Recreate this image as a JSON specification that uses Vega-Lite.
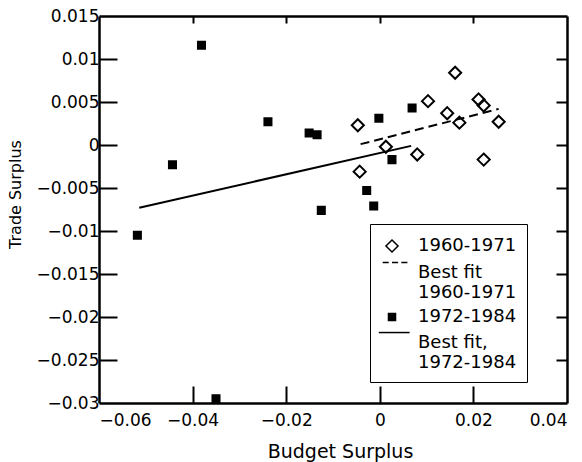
{
  "$schema": "https://vega.github.io/schema/vega-lite/v6.json",
  "width": 468,
  "height": 387,
  "padding": {"left": 7, "top": 7, "right": 10, "bottom": 5},
  "background": "white",
  "config": {
    "view": {"stroke": null},
    "font": "DejaVu Sans",
    "axis": {
      "grid": false,
      "domainColor": "black",
      "domainWidth": 2.5,
      "tickColor": "black",
      "tickWidth": 2,
      "labelFont": "DejaVu Sans",
      "labelFontSize": 17,
      "labelColor": "black",
      "titleFont": "DejaVu Sans",
      "titleFontSize": 16,
      "titleFontWeight": "normal",
      "titleColor": "black"
    },
    "legend": {
      "labelFont": "DejaVu Sans",
      "labelFontSize": 18,
      "labelColor": "black"
    }
  },
  "datasets": {
    "points": [
      {"series": "1972-1984", "budget": -0.0381, "trade": 0.0116},
      {"series": "1972-1984", "budget": -0.0443, "trade": -0.0023},
      {"series": "1972-1984", "budget": -0.0239, "trade": 0.0027},
      {"series": "1972-1984", "budget": -0.0518, "trade": -0.0105},
      {"series": "1972-1984", "budget": -0.0350, "trade": -0.0295},
      {"series": "1972-1984", "budget": -0.0151, "trade": 0.0014},
      {"series": "1972-1984", "budget": -0.0134, "trade": 0.0012},
      {"series": "1972-1984", "budget": -0.0002, "trade": 0.0031},
      {"series": "1972-1984", "budget": 0.0069, "trade": 0.0043},
      {"series": "1972-1984", "budget": 0.0026, "trade": -0.0017},
      {"series": "1972-1984", "budget": -0.0028, "trade": -0.0053},
      {"series": "1972-1984", "budget": -0.0013, "trade": -0.0071},
      {"series": "1972-1984", "budget": -0.0125, "trade": -0.0076},
      {"series": "1960-1971", "budget": -0.0047, "trade": 0.0023},
      {"series": "1960-1971", "budget": 0.0013, "trade": -0.0002},
      {"series": "1960-1971", "budget": -0.0043, "trade": -0.0031},
      {"series": "1960-1971", "budget": 0.0080, "trade": -0.0011},
      {"series": "1960-1971", "budget": 0.0103, "trade": 0.0051},
      {"series": "1960-1971", "budget": 0.0144, "trade": 0.0037},
      {"series": "1960-1971", "budget": 0.0161, "trade": 0.0084},
      {"series": "1960-1971", "budget": 0.0170, "trade": 0.0026},
      {"series": "1960-1971", "budget": 0.0211, "trade": 0.0053},
      {"series": "1960-1971", "budget": 0.0222, "trade": 0.0046},
      {"series": "1960-1971", "budget": 0.0254, "trade": 0.0027},
      {"series": "1960-1971", "budget": 0.0222, "trade": -0.0017}
    ],
    "fit7284": [
      {"budget": -0.0514, "trade": -0.0073},
      {"budget": 0.0067, "trade": -0.0001}
    ],
    "fit6071": [
      {"budget": -0.0041, "trade": 0.0001},
      {"budget": 0.0254, "trade": 0.0042}
    ]
  },
  "layer": [
    {
      "data": {"name": "fit7284"},
      "mark": {"type": "line", "color": "black", "strokeWidth": 2},
      "encoding": {
        "x": {
          "field": "budget", "type": "quantitative",
          "scale": {"domain": [-0.06, 0.04], "nice": false, "zero": false},
          "axis": {"orient": "bottom", "title": "Budget Surplus", "titleFontSize": 19, "titleX": 241, "values": [-0.06, -0.04, -0.02, 0, 0.02, 0.04], "format": "~g", "ticks": false, "labelPadding": 9, "titlePadding": 14}
        },
        "y": {
          "field": "trade", "type": "quantitative",
          "scale": {"domain": [-0.03, 0.015], "nice": false, "zero": false},
          "axis": {"orient": "left", "title": "Trade Surplus", "values": [-0.03, -0.025, -0.02, -0.015, -0.01, -0.005, 0, 0.005, 0.01, 0.015], "format": "~g", "ticks": false, "labelPadding": 0, "titleX": -84, "titleY": 178, "titleBaseline": "middle", "titleAlign": "center"}
        }
      }
    },
    {
      "data": {"name": "fit6071"},
      "mark": {"type": "line", "color": "black", "strokeWidth": 2, "strokeDash": [9, 5]},
      "encoding": {
        "x": {
          "field": "budget", "type": "quantitative",
          "axis": {"orient": "top", "title": null, "labels": false, "values": [-0.04, -0.02, 0, 0.02], "tickSize": -7}
        },
        "y": {
          "field": "trade", "type": "quantitative",
          "axis": {"orient": "right", "title": null, "labels": false, "values": [-0.025, -0.02, -0.015, -0.01, -0.005, 0, 0.005, 0.01], "tickSize": -11}
        }
      }
    },
    {
      "data": {"name": "points"},
      "mark": {"type": "point", "filled": true, "stroke": "black", "strokeWidth": 2, "opacity": 1, "size": 484},
      "encoding": {
        "x": {
          "field": "budget", "type": "quantitative",
          "axis": {"orient": "top", "offset": -387, "title": null, "labels": false, "domain": false, "values": [-0.04, -0.02, 0, 0.02], "tickSize": 17}
        },
        "y": {
          "field": "trade", "type": "quantitative",
          "axis": {"orient": "right", "offset": -468, "title": null, "labels": false, "domain": false, "values": [-0.025, -0.02, -0.015, -0.01, -0.005, 0, 0.005, 0.01], "tickSize": 18}
        },
        "shape": {
          "field": "series", "type": "nominal",
          "scale": {"domain": ["1960-1971", "Best fit 1960-1971", "1972-1984", "Best fit, 1972-1984"], "range": ["M0,-0.55L0.55,0L0,0.55L-0.55,0Z", "M-0.85,-0.95H-0.3M0,-0.95H0.55M0.85,-0.95H1.4", "M-0.32,-0.32H0.32V0.32H-0.32Z", "M-1.2,-0.95H1.6"]},
          "legend": {
            "title": null,
            "orient": "none",
            "legendX": 271,
            "legendY": 208,
            "strokeColor": "black",
            "fillColor": "white",
            "padding": 10,
            "rowPadding": 3,
            "symbolSize": 484,
            "labelOffset": 14,
            "labelExpr": "datum.label == 'Best fit 1960-1971' ? ['Best fit', '1960-1971'] : datum.label == 'Best fit, 1972-1984' ? ['Best fit,', '1972-1984'] : datum.label",
            "encode": {
              "legend": {"update": {"strokeWidth": {"value": 2.5}}},
              "symbols": {"update": {"stroke": {"value": "black"}, "strokeWidth": {"value": 2}}},
              "labels": {"update": {"lineHeight": {"value": 21}}}
            }
          }
        },
        "fill": {
          "field": "series", "type": "nominal",
          "scale": {"domain": ["1960-1971", "Best fit 1960-1971", "1972-1984", "Best fit, 1972-1984"], "range": ["transparent", "transparent", "black", "transparent"]}
        }
      }
    }
  ],
  "resolve": {"axis": {"x": "independent", "y": "independent"}}
}
